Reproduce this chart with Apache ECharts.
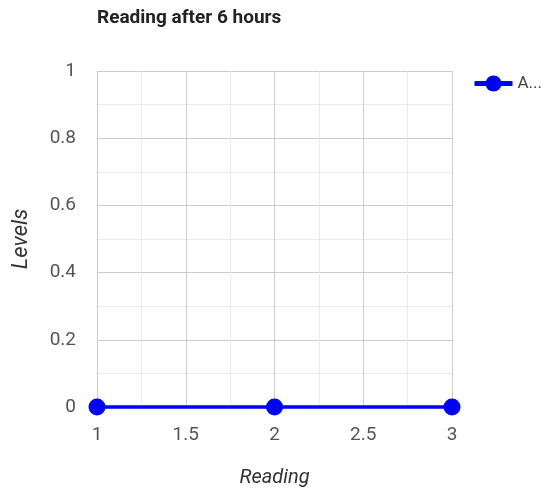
<!DOCTYPE html>
<html><head><meta charset="utf-8">
<script src="https://cdn.jsdelivr.net/npm/echarts@6/dist/echarts.min.js"></script>
<style>html,body{margin:0;padding:0;background:#fff}#c{width:542px;height:494px}</style>
</head><body><div id="c"></div>
<script>
const titleText = "Reading after 6 hours";
const seriesName = "A...";
const xValues = [1, 2, 3];
const yValues = [0, 0, 0];
const xAxisName = "Reading";
const yAxisName = "Levels";

const chart = echarts.init(document.getElementById('c'), null, {renderer: 'canvas'});
chart.setOption({
  animation: false,
  backgroundColor: '#fff',
  title: {
    text: titleText, left: 92, top: 4,
    textStyle: {fontFamily: 'Roboto', fontWeight: 'bold', fontSize: 19, color: '#222'}
  },
  legend: {
    left: 467, top: 70,
    itemWidth: 38, itemHeight: 20, itemGap: 5,
    lineStyle: {width: 5},
    textStyle: {fontFamily: 'Roboto', fontSize: 17, color: '#444'},
    data: [{name: seriesName}]
  },
  grid: {left: 97, right: 90, top: 71, bottom: 87},
  xAxis: {
    type: 'value', min: 1, max: 3, interval: 0.5,
    name: xAxisName, nameLocation: 'middle', nameGap: 61,
    nameTextStyle: {fontFamily: 'Roboto', fontStyle: 'italic', fontSize: 20, color: '#333'},
    axisLine: {show: false}, axisTick: {show: false},
    axisLabel: {fontFamily: 'Roboto', fontSize: 19, color: '#555', margin: 19},
    splitLine: {show: true, lineStyle: {color: '#cccccc', width: 1}},
    minorTick: {show: false, splitNumber: 2},
    minorSplitLine: {show: true, lineStyle: {color: '#ebebeb', width: 1}}
  },
  yAxis: {
    type: 'value', min: 0, max: 1, interval: 0.2,
    name: yAxisName, nameLocation: 'middle', nameGap: 65,
    nameTextStyle: {fontFamily: 'Roboto', fontStyle: 'italic', fontSize: 22, color: '#333'},
    axisLine: {show: false}, axisTick: {show: false},
    axisLabel: {fontFamily: 'Roboto', fontSize: 19, color: '#555', margin: 21},
    splitLine: {show: true, lineStyle: {color: '#cccccc', width: 1}},
    minorTick: {show: false, splitNumber: 2},
    minorSplitLine: {show: true, lineStyle: {color: '#ebebeb', width: 1}}
  },
  series: [{
    name: seriesName, type: 'line',
    data: xValues.map((x, i) => [x, yValues[i]]),
    color: '#0000ff',
    lineStyle: {width: 3.5, color: '#0000ff'},
    symbol: 'circle', symbolSize: 17,
    itemStyle: {color: '#0000ff'},
    clip: false
  }]
});
</script></body></html>
